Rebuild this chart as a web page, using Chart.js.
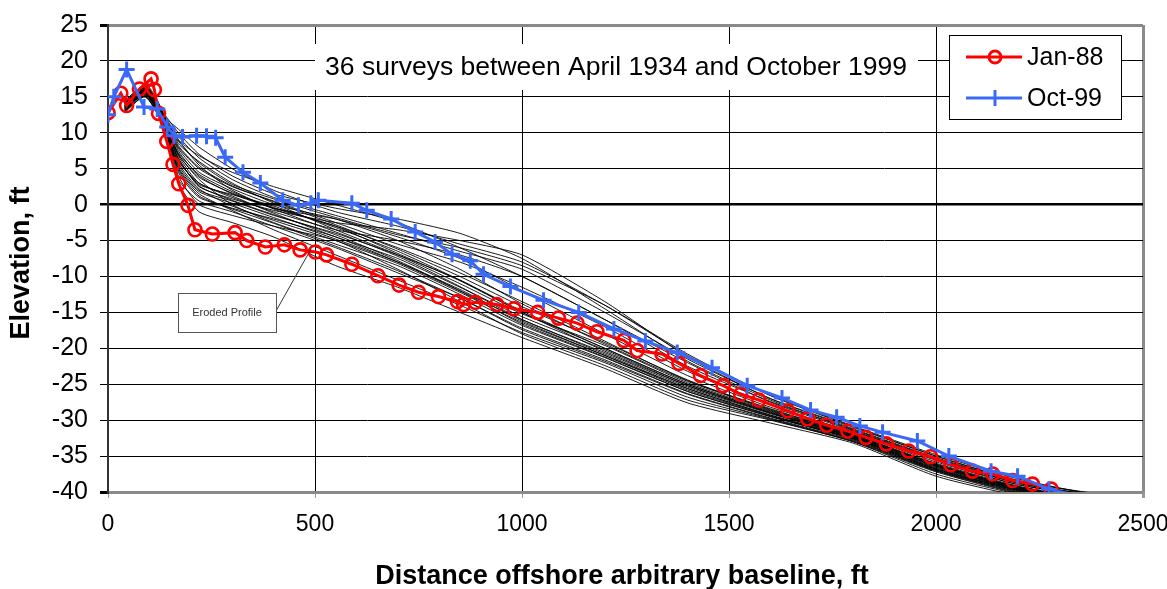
<!DOCTYPE html>
<html>
<head>
<meta charset="utf-8">
<script src="https://cdn.jsdelivr.net/npm/chart.js@4"></script>
<style>
  body { margin: 0; background: #fff; }
  canvas { display: block; }
</style>
</head>
<body>
<canvas id="chart" width="1167" height="589"></canvas>
<script>
// Jan-88 survey (red circles)
const janX = [0, 31, 45, 76, 104, 112, 122, 142, 157, 171, 193, 210, 252, 307, 335, 380, 426, 464, 501, 528, 589, 652, 703, 750, 798, 844, 859, 887, 939, 981, 1038, 1088, 1133, 1181, 1246, 1278, 1338, 1379, 1431, 1486, 1528, 1572, 1642, 1690, 1736, 1787, 1831, 1880, 1934, 1987, 2036, 2088, 2137, 2185, 2233, 2278];
const janY = [12.8, 15.5, 13.8, 16.1, 17.5, 16.0, 12.7, 8.8, 5.6, 2.9, -0.1, -3.5, -4.1, -3.9, -5.0, -5.9, -5.6, -6.3, -6.6, -7.0, -8.3, -9.9, -11.2, -12.2, -12.8, -13.5, -13.9, -13.6, -13.9, -14.5, -15.0, -15.8, -16.5, -17.7, -18.9, -20.3, -20.8, -22.1, -23.8, -25.2, -26.4, -27.2, -28.7, -29.8, -30.7, -31.5, -32.4, -33.3, -34.3, -35.1, -36.2, -37.1, -37.5, -38.4, -38.9, -39.6];

// Oct-99 survey (blue crosses)
const octX = [0, 14, 45, 87, 119, 143, 160, 180, 214, 238, 260, 283, 326, 368, 422, 460, 490, 508, 589, 625, 684, 742, 790, 831, 875, 907, 972, 1052, 1137, 1222, 1298, 1375, 1459, 1544, 1628, 1697, 1760, 1816, 1871, 1955, 2031, 2133, 2197, 2273, 2395];
const octY = [12.5, 15.0, 18.8, 13.6, 13.3, 10.8, 9.6, 9.4, 9.6, 9.5, 9.3, 6.6, 4.5, 3.0, 0.6, -0.1, 0.2, 0.6, 0.2, -0.8, -2.0, -3.8, -5.2, -6.9, -7.8, -9.7, -11.4, -13.3, -15.0, -17.3, -19.0, -20.6, -22.7, -25.2, -26.9, -28.6, -29.6, -30.8, -31.7, -32.9, -35.0, -37.1, -37.8, -39.6, -41.2];

// the other surveys (thin black lines), all read at the same stations
const surveyX = [40, 90, 130, 170, 220, 300, 400, 550, 700, 850, 1000, 1200, 1400, 1600, 1800, 2000, 2200, 2430];
const s01 = [13.5, 15.8, 12.5, 10.5, 8.0, 5.0, 2.0, -1.0, -3.0, -5.5, -8.0, -14.0, -21.0, -26.5, -30.8, -34.8, -38.2, -41.0];
const s02 = [14.0, 16.2, 12.8, 9.5, 6.5, 3.5, 1.0, -1.5, -4.0, -6.5, -9.0, -15.0, -21.5, -27.0, -31.2, -35.2, -38.6, -41.2];
const s03 = [13.2, 15.5, 12.0, 8.0, 5.0, 2.5, 0.5, -2.5, -5.5, -8.0, -11.5, -17.0, -23.2, -27.8, -31.8, -35.8, -39.0, -41.0];
const s04 = [14.5, 16.5, 13.0, 7.5, 4.0, 1.5, -0.5, -3.0, -6.0, -9.5, -13.5, -19.0, -24.5, -28.4, -32.0, -36.0, -39.2, -41.5];
const s05 = [13.8, 15.0, 11.5, 6.0, 3.0, 1.0, -1.0, -3.5, -5.0, -7.0, -10.0, -16.0, -22.0, -27.5, -31.5, -35.5, -38.8, -40.8];
const s06 = [13.0, 16.0, 12.2, 5.5, 2.0, 0.5, -1.5, -4.0, -7.0, -10.5, -15.0, -20.0, -25.0, -28.9, -32.3, -36.4, -39.5, -41.3];
const s07 = [14.2, 15.6, 12.6, 9.0, 5.5, 2.0, -0.5, -2.0, -4.5, -7.5, -12.0, -18.0, -23.8, -28.2, -31.6, -35.6, -39.0, -41.0];
const s08 = [13.6, 16.8, 13.2, 4.5, 1.0, -0.5, -2.0, -4.5, -8.0, -12.0, -16.0, -20.8, -25.6, -29.3, -32.5, -36.6, -39.6, -41.4];
const s09 = [12.8, 15.2, 11.8, 7.0, 3.5, 0.0, -2.5, -5.5, -8.5, -12.5, -16.8, -21.3, -26.0, -29.5, -32.6, -36.8, -39.8, -41.6];
const s10 = [14.0, 16.0, 12.4, 3.5, 0.5, -1.0, -3.0, -6.0, -9.5, -13.0, -17.2, -21.6, -26.3, -29.7, -32.8, -37.0, -40.0, -41.8];
const s11 = [13.4, 15.4, 12.0, 6.5, 2.5, 0.8, -0.8, -2.5, -3.5, -5.0, -7.0, -13.5, -21.2, -27.0, -31.0, -35.0, -38.5, -40.6];
const s12 = [13.9, 16.4, 12.9, 8.5, 6.0, 3.0, 0.2, -3.5, -7.0, -11.0, -15.2, -19.6, -24.8, -28.7, -32.2, -36.2, -39.4, -41.2];
const s13 = [13.1, 15.0, 11.9, 5.0, 1.5, -0.8, -3.5, -7.0, -10.5, -14.0, -17.8, -22.0, -26.8, -29.9, -33.0, -37.2, -40.2, -42.0];
const s14 = [14.4, 16.6, 13.1, 10.0, 7.0, 4.0, 1.5, -0.5, -2.0, -4.0, -7.5, -14.5, -21.8, -27.2, -31.4, -35.4, -38.8, -41.0];
const s15 = [13.3, 15.7, 12.3, 6.8, 3.0, 1.2, -1.2, -4.5, -7.5, -11.5, -15.6, -20.2, -25.2, -29.0, -32.4, -36.5, -39.6, -41.4];
const s16 = [13.7, 16.1, 12.7, 4.0, 0.0, -1.5, -3.0, -5.0, -9.0, -13.5, -18.0, -22.4, -27.2, -30.0, -33.0, -37.5, -40.3, -42.0];
const s17 = [14.1, 15.9, 12.5, 7.8, 4.5, 2.2, 0.0, -2.0, -5.0, -9.0, -13.8, -19.4, -24.6, -28.5, -32.0, -36.2, -39.3, -41.2];
const s18 = [13.5, 15.3, 12.1, 5.8, 2.2, -0.2, -2.2, -5.0, -8.2, -12.2, -16.4, -21.0, -25.8, -29.4, -32.7, -37.0, -39.9, -41.6];
const s19 = [12.9, 15.1, 11.6, 8.8, 5.8, 2.8, 0.8, -1.8, -4.2, -6.0, -8.5, -14.0, -20.8, -26.6, -30.9, -35.0, -38.4, -40.8];
const s20 = [14.3, 16.3, 12.9, 3.0, -1.0, -2.5, -4.5, -8.5, -11.5, -15.0, -18.5, -22.8, -27.6, -30.4, -33.2, -37.8, -40.5, -42.0];
const s21 = [13.7, 15.9, 12.6, 6.2, 2.8, 1.4, -0.2, -3.2, -6.5, -10.5, -14.8, -20.0, -25.0, -28.8, -32.2, -36.3, -39.4, -41.3];
const s22 = [13.2, 15.5, 12.2, 7.2, 4.2, 1.8, -0.6, -3.8, -7.2, -11.4, -16.0, -20.6, -25.4, -29.1, -32.4, -36.7, -39.7, -41.5];
const s23 = [14.0, 16.7, 13.0, 9.0, 6.8, 4.5, 2.5, 0.0, -2.5, -6.0, -10.0, -16.0, -22.5, -27.4, -31.3, -35.3, -38.7, -40.9];
const s24 = [13.6, 15.8, 12.4, 5.2, 1.8, 0.2, -1.8, -4.8, -8.0, -11.8, -16.2, -21.0, -25.6, -29.3, -32.5, -36.9, -39.8, -41.6];
const s25 = [13.8, 16.0, 12.8, 8.2, 5.2, 2.6, 0.4, -2.8, -6.2, -10.0, -14.2, -19.2, -24.4, -28.6, -32.1, -36.1, -39.3, -41.1];
const s26 = [13.4, 15.6, 12.3, 4.8, 1.2, -0.6, -2.6, -5.8, -9.2, -13.0, -17.4, -21.8, -26.4, -29.8, -32.9, -37.1, -40.1, -41.8];
const s27 = [14.2, 16.2, 12.9, 7.0, 3.8, 1.6, -0.4, -3.0, -6.8, -10.6, -15.0, -20.4, -25.2, -29.0, -32.3, -36.4, -39.5, -41.3];
const s28 = [13.0, 15.4, 12.0, 6.4, 2.6, 0.6, -1.4, -4.2, -7.8, -12.0, -16.6, -21.2, -26.0, -29.5, -32.6, -36.8, -39.7, -41.5];
const otherSurveys = [s01, s02, s03, s04, s05, s06, s07, s08, s09, s10, s11, s12, s13, s14,
  s15, s16, s17, s18, s19, s20, s21, s22, s23, s24, s25, s26, s27, s28];

const xTicks = [0, 500, 1000, 1500, 2000, 2500];
const yTicks = [25, 20, 15, 10, 5, 0, -5, -10, -15, -20, -25, -30, -35, -40];

const RED = '#ff0000';
const BLUE = '#3a6af5';
const FONT = "'Liberation Sans', Arial, sans-serif";

const toPoints = (xs, ys) => xs.map((x, i) => ({ x: x, y: ys[i] }));

const datasets = [
  {
    label: 'Oct-99',
    data: toPoints(octX, octY),
    borderColor: BLUE,
    borderWidth: 3,
    pointStyle: 'cross',
    pointRadius: 8,
    pointBorderWidth: 3,
    pointBorderColor: BLUE,
    order: 0,
  },
  {
    label: 'Jan-88',
    data: toPoints(janX, janY),
    borderColor: RED,
    borderWidth: 3,
    pointStyle: 'circle',
    pointRadius: 6.5,
    pointBorderWidth: 2.6,
    pointBorderColor: RED,
    pointBackgroundColor: 'rgba(0,0,0,0)',
    order: 1,
  },
];
otherSurveys.forEach((ys, i) => {
  datasets.push({
    label: 'survey ' + (i + 1),
    data: toPoints(surveyX, ys),
    borderColor: '#000',
    borderWidth: 0.9,
    pointRadius: 0,
    tension: 0.2,
    order: 2,
  });
});

// titles, note box, legend
const decorations = {
  id: 'decorations',
  afterDraw(chart) {
    const ctx = chart.ctx;
    ctx.save();

    // survey note with white box
    ctx.fillStyle = '#fff';
    ctx.fillRect(315, 44, 603, 46);
    ctx.fillStyle = '#000';
    ctx.font = '26.5px ' + FONT;
    ctx.textAlign = 'center';
    ctx.textBaseline = 'middle';
    ctx.fillText('36 surveys between April 1934 and October 1999', 616, 68);

    // eroded profile label
    ctx.strokeStyle = '#333';
    ctx.lineWidth = 1;
    ctx.beginPath();
    ctx.moveTo(276, 311);
    ctx.lineTo(311, 249);
    ctx.stroke();
    ctx.fillStyle = '#fff';
    ctx.fillRect(178, 293, 98, 39);
    ctx.strokeStyle = '#555';
    ctx.strokeRect(178.5, 293.5, 98, 39);
    ctx.fillStyle = '#333';
    ctx.font = '11px ' + FONT;
    ctx.fillText('Eroded Profile', 227, 313);

    // legend
    ctx.fillStyle = '#fff';
    ctx.fillRect(949, 35, 172, 84);
    ctx.strokeStyle = '#000';
    ctx.lineWidth = 1;
    ctx.strokeRect(949.5, 35.5, 172, 84);
    const items = [
      { label: 'Jan-88', color: RED, y: 57, marker: 'circle' },
      { label: 'Oct-99', color: BLUE, y: 98, marker: 'cross' },
    ];
    items.forEach(it => {
      ctx.strokeStyle = it.color;
      ctx.lineWidth = 3;
      ctx.beginPath();
      ctx.moveTo(966, it.y);
      ctx.lineTo(1022, it.y);
      ctx.stroke();
      ctx.beginPath();
      if (it.marker === 'circle') {
        ctx.arc(995, it.y, 6, 0, Math.PI * 2);
      } else {
        ctx.moveTo(995, it.y - 8);
        ctx.lineTo(995, it.y + 8);
      }
      ctx.stroke();
      ctx.fillStyle = '#000';
      ctx.font = '25px ' + FONT;
      ctx.textAlign = 'left';
      ctx.fillText(it.label, 1027, it.y + 1);
    });

    // axis titles
    ctx.fillStyle = '#000';
    ctx.font = 'bold 27px ' + FONT;
    ctx.textAlign = 'center';
    ctx.fillText('Distance offshore arbitrary baseline, ft', 622, 577);
    ctx.translate(22, 263);
    ctx.rotate(-Math.PI / 2);
    ctx.fillText('Elevation, ft', 0, 0);

    ctx.restore();
  }
};

new Chart(document.getElementById('chart'), {
  type: 'line',
  data: { datasets: datasets },
  options: {
    responsive: false,
    animation: false,
    devicePixelRatio: 1,
    layout: { padding: { left: 0, right: 24, top: 25, bottom: 0 } },
    plugins: {
      legend: { display: false },
      tooltip: { enabled: false },
    },
    scales: {
      x: {
        type: 'linear',
        min: 0,
        max: 2500,
        afterBuildTicks: s => { s.ticks = xTicks.map(v => ({ value: v })); },
        afterFit: s => { s.height = 97; s.paddingLeft = 0; s.paddingRight = 0; },
        border: { display: false },
        grid: {
          color: c => c.tick.value === 2500 ? '#8a8a8a' : (c.tick.value === 0 ? 'rgba(0,0,0,0)' : '#000'),
          lineWidth: c => c.tick.value === 2500 ? 3 : 1,
          tickColor: '#999',
          tickLength: 6,
        },
        ticks: {
          color: '#000',
          font: { family: FONT, size: 23 },
          padding: 13,
          maxRotation: 0,
          callback: v => String(v),
        },
      },
      y: {
        type: 'linear',
        min: -40,
        max: 25,
        afterBuildTicks: s => { s.ticks = yTicks.map(v => ({ value: v })); },
        afterFit: s => { s.width = 108; s.paddingTop = 0; s.paddingBottom = 0; },
        border: { display: true, color: '#333', width: 2 },
        grid: {
          color: c => (c.tick.value === 25 || c.tick.value === -40) ? '#8a8a8a' : '#000',
          lineWidth: c => {
            if (c.tick.value === 0) return 2.5;
            if (c.tick.value === 25 || c.tick.value === -40) return 3;
            return 1;
          },
          tickColor: '#000',
          tickLength: 8,
        },
        ticks: {
          color: '#000',
          font: { family: FONT, size: 25 },
          padding: 12,
          callback: v => String(v),
        },
      },
    },
  },
  plugins: [decorations],
});
</script>
</body>
</html>
